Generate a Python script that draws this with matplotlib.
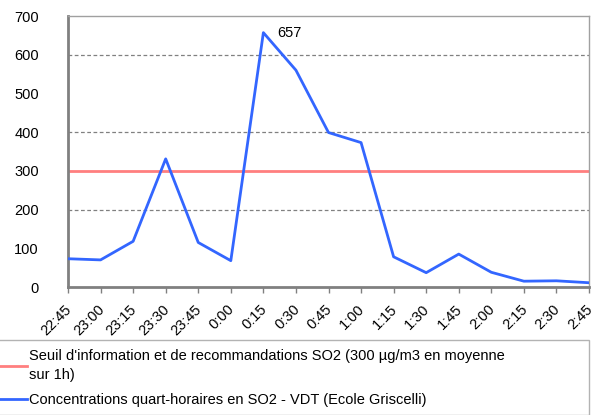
import numpy as np
import matplotlib.pyplot as plt
import matplotlib.transforms as mtransforms

plt.rcParams['font.family'] = ['Liberation Sans', 'DejaVu Sans']

'''
Daten
'''
heures = ['22:45', '23:00', '23:15', '23:30', '23:45', '0:00', '0:15', '0:30',
          '0:45', '1:00', '1:15', '1:30', '1:45', '2:00', '2:15', '2:30', '2:45']
so2 = [73, 70, 118, 331, 115, 68, 657, 560, 399, 373, 78, 37, 85, 38, 15, 16, 11]
seuil = 300
pic_label = '657'

lab_seuil = "Seuil d'information et de recommandations SO2 (300 µg/m3 en moyenne\nsur 1h)"
lab_conc = 'Concentrations quart-horaires en SO2 - VDT (Ecole Griscelli)'

fs = 10.5

'''
Plot
'''
fig = plt.figure(figsize=(5.97, 4.15), dpi=100)
ax = fig.add_axes([68/597, 1 - 287/415, 521/597, 271/415])

x = np.arange(len(heures))
l1 = ax.axhline(seuil, color='#ff7f7f', lw=2, zorder=2)
l2, = ax.plot(x, so2, color='#3366ff', lw=2, zorder=3)
ipk = int(np.argmax(so2))
ax.annotate(pic_label, (x[ipk], so2[ipk]), xytext=(10, -5), textcoords='offset points',
            fontsize=fs, va='bottom', ha='left')

ax.set_xlim(0, len(heures) - 1)
ax.set_ylim(0, 700)
ax.set_yticks(np.arange(0, 701, 100))
ax.tick_params(axis='y', length=0, labelsize=fs, pad=21)
ax.set_xticks(x)
ax.set_xticklabels(heures, rotation=45, ha='right', rotation_mode='anchor', fontsize=fs)
ax.tick_params(axis='x', length=4, color='#808080', width=1, pad=7)
decal = mtransforms.ScaledTranslation(-2.5/72, 0, fig.dpi_scale_trans)
for lab in ax.get_xticklabels():
    lab.set_transform(lab.get_transform() + decal)
for y in [200, 400, 600]:
    ax.axhline(y, color='#808080', ls=(0, (3, 2)), lw=0.9, zorder=1)

for s in ['top', 'right']:
    ax.spines[s].set_color('#a0a0a0')
    ax.spines[s].set_linewidth(1)
for s in ['left', 'bottom']:
    ax.spines[s].set_color('#808080')
    ax.spines[s].set_linewidth(2)

leg = fig.legend([l1, l2], [lab_seuil, lab_conc], loc='upper left',
                 bbox_to_anchor=(-9/597, 0, 598/597, 75/415), mode='expand',
                 fontsize=fs, frameon=True, fancybox=False, edgecolor='#a0a0a0',
                 handlelength=1.85, handletextpad=0.15, borderpad=0.6, labelspacing=0.75,
                 borderaxespad=0)
leg.get_frame().set_linewidth(1)
leg.get_texts()[0].set_linespacing(1.45)

plt.savefig('out.png', dpi=100)
